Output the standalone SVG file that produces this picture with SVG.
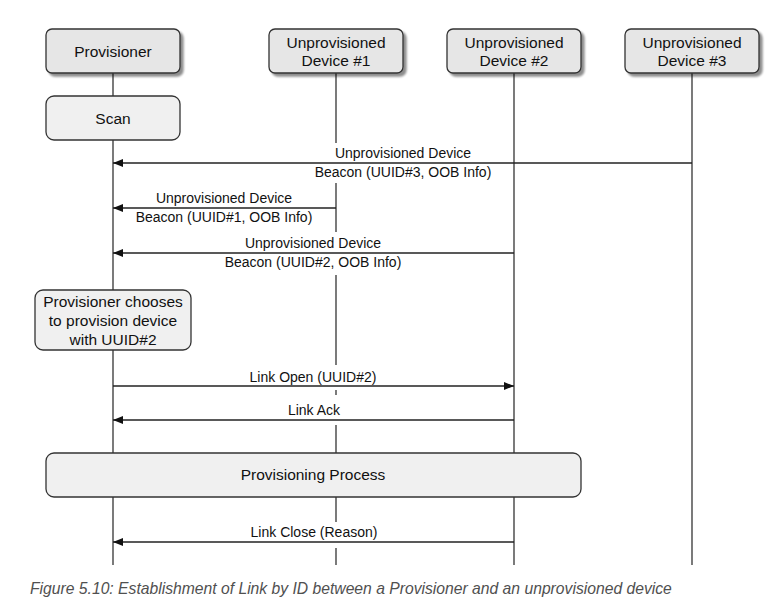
<svg xmlns="http://www.w3.org/2000/svg" width="781" height="608" viewBox="0 0 781 608">
  <defs>
    <marker id="arrow" viewBox="0 0 10 8" refX="10" refY="4" markerWidth="10" markerHeight="8" markerUnits="userSpaceOnUse" orient="auto">
      <path d="M0,0 L10,4 L0,8 Z" fill="#111"/>
    </marker>
    <filter id="shadow" x="-10%" y="-10%" width="130%" height="140%">
      <feGaussianBlur in="SourceAlpha" stdDeviation="1"/>
      <feOffset dx="2.5" dy="2.5" result="off"/>
      <feComponentTransfer><feFuncA type="linear" slope="0.45"/></feComponentTransfer>
      <feMerge><feMergeNode/><feMergeNode in="SourceGraphic"/></feMerge>
    </filter>
  </defs>
  <style>
    text { font-family: "Liberation Sans", Arial, sans-serif; fill: #111; }
    .head { fill: #e6e6e6; stroke: #333; stroke-width: 1.3; }
    .act { fill: #f0f0f0; stroke: #333; stroke-width: 1.3; }
    .life { stroke: #333; stroke-width: 1.3; fill: none; }
    .msg { stroke: #222; stroke-width: 1.3; fill: none; marker-end: url(#arrow); }
    .bg { fill: #fff; }
    .t15 { font-size: 15.5px; text-anchor: middle; }
    .t14 { font-size: 14px; text-anchor: middle; }
    .cap { font-size: 15.7px; font-style: italic; fill: #505050; }
  </style>

  <rect width="781" height="608" fill="#fff"/>

  <!-- lifelines -->
  <g id="lifelines">
    <line class="life" x1="113" y1="73" x2="113" y2="565"/>
    <line class="life" x1="336" y1="73" x2="336" y2="565"/>
    <line class="life" x1="514" y1="73" x2="514" y2="565"/>
    <line class="life" x1="692" y1="73" x2="692" y2="565"/>
  </g>

  <!-- participants -->
  <g id="provisioner">
    <rect class="head" x="46" y="29" width="134" height="44" rx="6" filter="url(#shadow)"/>
    <text class="t15" x="113" y="57">Provisioner</text>
  </g>
  <g id="device1">
    <rect class="head" x="269" y="29" width="134" height="44" rx="6" filter="url(#shadow)"/>
    <text class="t15" x="336" y="48">Unprovisioned</text>
    <text class="t15" x="336" y="66">Device #1</text>
  </g>
  <g id="device2">
    <rect class="head" x="447" y="29" width="134" height="44" rx="6" filter="url(#shadow)"/>
    <text class="t15" x="514" y="48">Unprovisioned</text>
    <text class="t15" x="514" y="66">Device #2</text>
  </g>
  <g id="device3">
    <rect class="head" x="625" y="29" width="134" height="44" rx="6" filter="url(#shadow)"/>
    <text class="t15" x="692" y="48">Unprovisioned</text>
    <text class="t15" x="692" y="66">Device #3</text>
  </g>

  <!-- activity boxes -->
  <g id="scan">
    <rect class="act" x="46" y="96" width="134" height="44" rx="8"/>
    <text class="t15" x="113" y="124">Scan</text>
  </g>
  <g id="choose">
    <rect class="act" x="35" y="290" width="156" height="60" rx="8"/>
    <text class="t15" x="113" y="307">Provisioner chooses</text>
    <text class="t15" x="113" y="326">to provision device</text>
    <text class="t15" x="113" y="345">with UUID#2</text>
  </g>

  <!-- messages -->
  <g id="connectors">
    <!-- label backgrounds break the crossed lifeline -->
    <rect class="bg" x="320" y="143" width="170" height="40"/>
    <rect class="bg" x="320" y="232" width="170" height="43"/>
    <rect class="bg" x="320" y="365" width="40" height="25"/>
    <rect class="bg" x="320" y="395" width="40" height="30"/>
    <rect class="bg" x="320" y="522" width="40" height="26"/>

    <line class="msg" x1="692" y1="163" x2="113" y2="163"/>
    <text class="t14" x="403" y="158">Unprovisioned Device</text>
    <text class="t14" x="403" y="177">Beacon (UUID#3, OOB Info)</text>

    <line class="msg" x1="336" y1="208" x2="113" y2="208"/>
    <text class="t14" x="224" y="203">Unprovisioned Device</text>
    <text class="t14" x="224" y="222">Beacon (UUID#1, OOB Info)</text>

    <line class="msg" x1="514" y1="253" x2="113" y2="253"/>
    <text class="t14" x="313" y="248">Unprovisioned Device</text>
    <text class="t14" x="313" y="267">Beacon (UUID#2, OOB Info)</text>

    <line class="msg" x1="113" y1="386" x2="514" y2="386"/>
    <text class="t14" x="313" y="382">Link Open (UUID#2)</text>

    <line class="msg" x1="514" y1="420" x2="113" y2="420"/>
    <text class="t14" x="314" y="415">Link Ack</text>

    <line class="msg" x1="514" y1="542" x2="113" y2="542"/>
    <text class="t14" x="314" y="537">Link Close (Reason)</text>
  </g>

  <g id="provisioning">
    <rect class="act" x="46" y="453" width="535" height="44" rx="8"/>
    <text class="t15" x="313" y="480">Provisioning Process</text>
  </g>

  <text class="cap" x="30" y="594">Figure 5.10: Establishment of Link by ID between a Provisioner and an unprovisioned device</text>
</svg>
